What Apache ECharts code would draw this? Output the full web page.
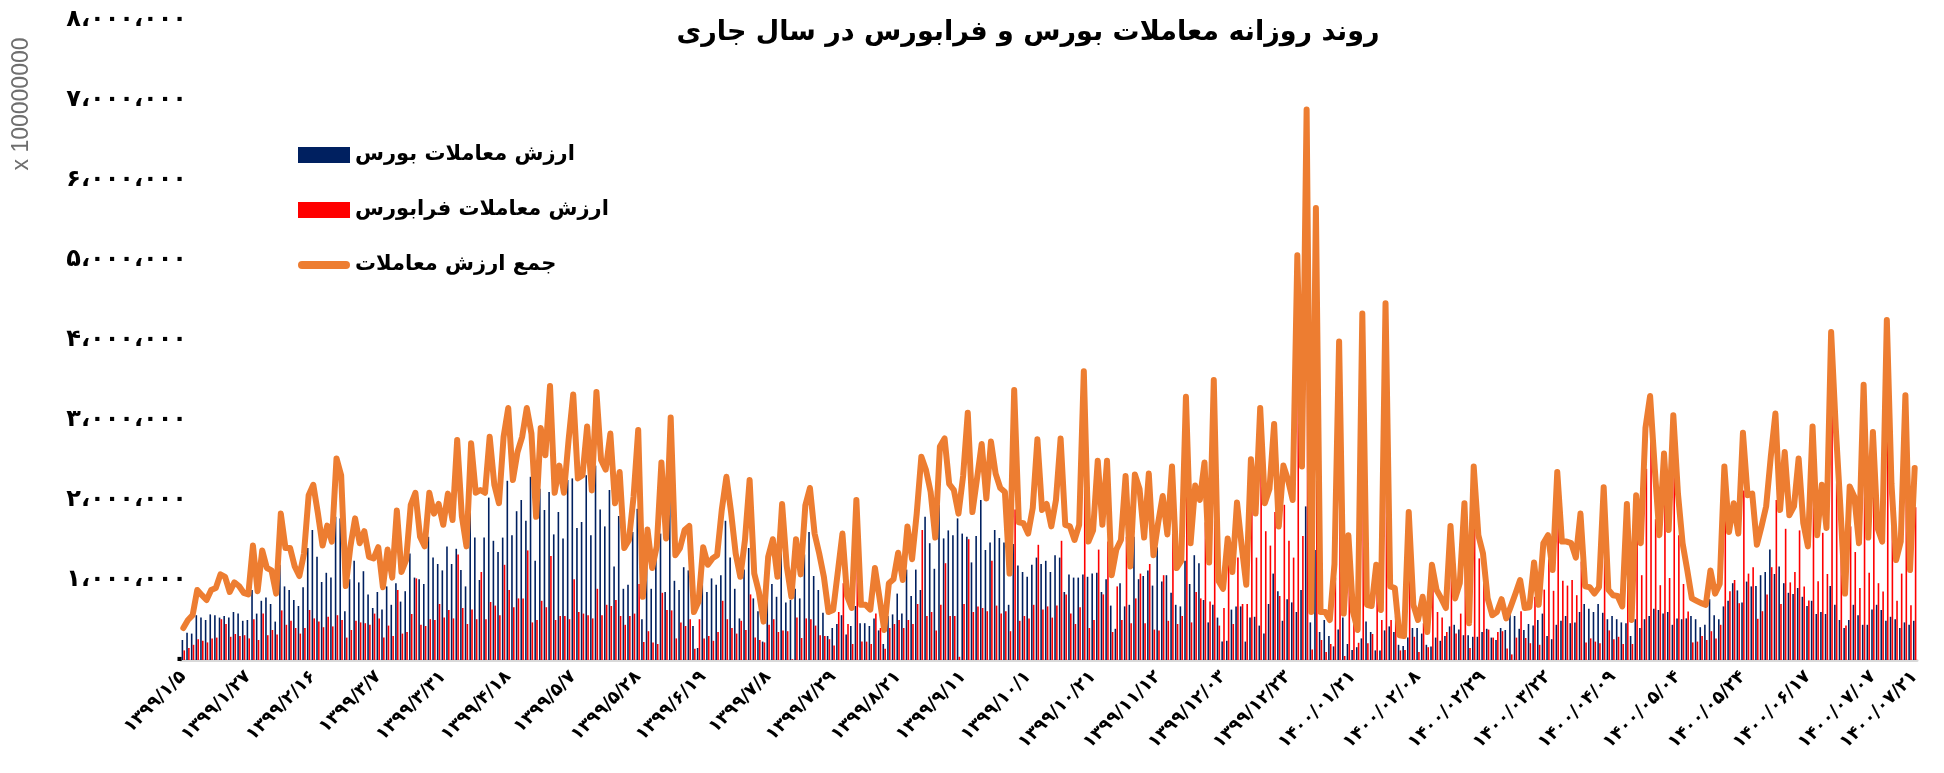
<!DOCTYPE html>
<html><head><meta charset="utf-8">
<script src="https://cdn.jsdelivr.net/npm/echarts@6/dist/echarts.min.js"></script>
<style>html,body{margin:0;padding:0;background:#fff}#c{width:1944px;height:773px}</style>
</head><body><div id="c"></div>
<script>
// tick labels shown every 14 trading days, plus the last day
const tickLabels = ['۱۳۹۹/۱/۵','۱۳۹۹/۱/۲۷','۱۳۹۹/۲/۱۶','۱۳۹۹/۳/۷','۱۳۹۹/۳/۳۱','۱۳۹۹/۴/۱۸','۱۳۹۹/۵/۷','۱۳۹۹/۵/۲۸','۱۳۹۹/۶/۱۹','۱۳۹۹/۷/۸','۱۳۹۹/۷/۲۹','۱۳۹۹/۸/۲۱','۱۳۹۹/۹/۱۱','۱۳۹۹/۱۰/۱','۱۳۹۹/۱۰/۲۱','۱۳۹۹/۱۱/۱۲','۱۳۹۹/۱۲/۰۳','۱۳۹۹/۱۲/۲۳','۱۴۰۰/۰۱/۲۱','۱۴۰۰/۰۲/۰۸','۱۴۰۰/۰۲/۲۹','۱۴۰۰/۰۳/۲۲','۱۴۰۰/۰۴/۰۹','۱۴۰۰/۰۵/۰۴','۱۴۰۰/۰۵/۲۴','۱۴۰۰/۰۶/۱۷','۱۴۰۰/۰۷/۰۷','۱۴۰۰/۰۷/۲۱'];
const tickStep = 14;

// values in millions of axis units (axis unit = x 100000000)
const bourse = [
0.25,0.34,0.33,0.56,0.53,0.50,0.57,0.56,0.53,0.55,0.53,0.60,0.58,0.49,0.50,0.875,0.58,0.74,0.78,0.70,0.48,1.19,0.92,0.875,0.75,0.675,0.91,1.40,1.625,1.29,0.975,1.09,1.03,1.79,1.77,0.61,1.01,1.24,0.97,1.11,0.82,0.65,0.85,0.63,0.92,0.69,0.96,
0.73,0.86,1.33,1.03,1.01,0.95,1.54,1.28,1.20,1.12,1.42,1.20,1.39,1.125,0.92,2.0,1.53,1.0,1.53,2.03,1.49,1.35,1.53,2.24,1.56,1.86,2.0,1.74,2.29,1.24,2.14,1.875,2.10,1.57,1.85,1.52,2.25,2.27,1.65,1.725,2.31,1.56,2.43,1.88,1.67,2.125,1.17,1.80,
0.89,0.94,1.6,1.89,0.51,1.25,0.89,1.26,1.58,0.85,2.35,0.99,0.875,1.16,1.12,0.425,0.15,1.1,0.85,1.02,0.94,1.06,1.74,1.28,0.89,0.52,1.13,1.40,0.77,0.61,0.23,0.94,0.95,0.79,1.55,0.72,0.75,0.89,0.77,1.32,1.60,1.05,0.875,0.59,0.30,0.40,0.45,
0.56,0.32,0.425,0.675,0.46,0.46,0.425,0.52,0.37,0.20,0.55,0.57,0.83,0.58,1.13,0.80,1.13,0.875,1.79,1.46,1.14,1.94,1.52,1.62,1.56,1.77,1.58,1.54,1.22,1.55,2.0,1.375,1.47,1.625,1.525,1.47,0.69,1.45,1.18,1.10,1.04,1.19,1.28,1.20,
1.24,1.10,1.31,1.28,0.85,1.07,1.03,1.03,1.07,1.04,1.08,1.09,0.85,1.01,0.68,0.39,0.96,0.67,0.69,1.54,1.01,1.05,1.12,0.93,1.41,0.98,1.06,0.84,0.69,0.67,1.24,0.95,1.31,1.21,0.75,0.47,0.69,0.53,0.23,0.24,0.63,0.67,0.67,0.23,0.53,0.54,0.43,0.33,0.70,1.08,0.86,
0.49,0.76,0.72,0.60,0.875,1.92,0.47,1.375,0.35,0.5,0.3,0.17,0.38,0.53,0.20,0.125,0.16,0.27,0.48,0.35,0.12,0.12,0.37,0.42,0.35,0.19,0.175,0.28,0.40,0.40,0.33,0.19,0.17,0.28,0.24,0.30,0.42,0.44,0.38,0.31,0.31,0.29,0.29,0.35,0.39,0.28,0.25,
0.40,0.375,0.60,0.55,0.39,0.375,0.45,0.43,0.5,0.58,0.30,0.26,0.44,0.49,0.55,0.46,0.47,0.60,0.70,0.64,0.60,0.70,0.59,0.51,0.55,0.51,0.47,0.46,0.30,0.51,0.40,0.51,0.55,0.64,0.625,0.58,0.60,0.44,0.52,0.51,0.52,0.55,0.51,0.41,0.44,0.76,0.56,0.51,
0.67,0.74,0.96,0.87,0.72,0.98,0.92,0.925,1.06,1.10,1.38,1.075,1.17,0.96,0.84,0.825,0.90,0.79,0.675,0.74,0.575,0.60,0.575,0.925,0.69,0.5,0.40,0.5,0.69,0.56,0.44,0.44,0.63,0.69,0.625,0.49,0.54,0.51,0.40,0.47,0.44,0.49];

const farabourse = [
0.12,0.15,0.19,0.26,0.24,0.22,0.27,0.28,0.51,0.45,0.29,0.325,0.30,0.31,0.27,0.51,0.25,0.58,0.31,0.375,0.32,0.62,0.44,0.49,0.40,0.33,0.40,0.625,0.52,0.48,0.41,0.54,0.42,0.56,0.50,0.28,0.375,0.49,0.47,0.46,0.44,0.58,0.52,0.28,0.43,0.30,0.875,
0.33,0.35,0.575,1.02,0.44,0.425,0.51,0.50,0.70,0.53,0.625,0.52,1.32,0.65,0.45,0.63,0.51,1.10,0.51,0.725,0.68,0.56,1.19,0.875,0.66,0.77,0.77,1.37,0.47,0.50,0.74,0.66,1.30,0.50,0.55,0.55,0.51,1.01,0.60,0.58,0.56,0.52,0.89,0.56,0.69,0.675,0.75,0.55,
0.44,0.55,0.58,0.95,0.225,0.36,0.22,0.20,0.84,0.625,0.62,0.27,0.47,0.425,0.51,0.14,0.51,0.27,0.30,0.24,0.35,0.74,0.51,0.40,0.33,0.49,0.375,0.82,0.28,0.25,0.22,0.44,0.51,0.35,0.37,0.36,0.01,0.53,0.275,0.52,0.51,0.43,0.31,0.30,0.26,0.18,0.6,
0.96,0.45,0.2,1.3,0.23,0.23,0.2,0.58,0.4,0.14,0.4,0.45,0.5,0.4,0.5,0.45,0.7,1.625,0.55,0.6,0.37,0.69,1.21,0.55,0.55,0.04,0.70,1.51,0.60,0.67,0.65,0.61,1.24,0.68,0.58,0.61,0.36,1.88,0.49,0.55,0.52,0.69,1.44,0.63,
0.67,0.53,0.68,1.49,0.82,0.58,0.45,0.66,2.54,0.40,0.50,1.38,0.82,1.48,0.35,0.92,0.50,1.54,0.46,0.77,1.08,0.46,1.20,0.38,0.37,1.06,0.49,1.58,0.45,0.55,2.05,0.47,0.85,0.77,1.72,0.73,2.81,0.43,0.65,1.20,0.45,1.28,0.7,0.70,1.9,1.28,2.7,1.61,1.43,1.85,0.8,
1.94,1.49,1.28,4.46,1.55,4.96,0.13,4.28,0.25,0.1,0.2,1.03,3.6,0.05,1.36,0.475,0.215,4.06,0.21,0.325,1.07,0.5,4.09,0.5,0.55,0.12,0.125,1.57,0.29,0.1,0.46,0.16,1.02,0.6,0.53,0.35,1.255,0.33,0.58,1.65,0.15,2.13,1.27,0.98,0.38,0.28,0.35,
0.36,0.145,0.07,0.28,0.61,0.275,0.21,0.79,0.19,0.88,1.26,0.865,1.91,0.99,0.93,1.0,0.81,1.23,0.22,0.27,0.23,0.21,1.57,0.37,0.26,0.29,0.2,1.49,0.2,1.55,1.06,2.39,2.75,1.76,0.935,2.0,1.025,2.62,1.56,0.95,0.605,0.22,0.23,0.3,0.25,0.36,0.27,0.44,
1.75,0.86,1.0,0.71,2.12,1.08,1.16,0.515,0.61,0.82,1.16,2.0,0.7,1.64,0.97,1.1,1.62,0.92,0.745,2.18,0.985,1.59,1.075,3.175,2.21,1.4,0.43,1.67,1.35,0.9,3.0,1.09,2.22,0.96,0.855,3.76,1.66,0.74,1.08,2.84,0.685,1.91];

const total = [
0.40,0.50,0.56,0.875,0.81,0.75,0.875,0.90,1.07,1.04,0.85,0.97,0.925,0.84,0.82,1.43,0.86,1.37,1.15,1.12,0.83,1.83,1.40,1.40,1.17,1.05,1.33,2.06,2.19,1.83,1.43,1.68,1.48,2.52,2.31,0.925,1.42,1.77,1.46,1.61,1.29,1.27,1.41,0.91,1.38,1.03,1.87,
1.10,1.25,1.94,2.09,1.54,1.42,2.09,1.83,1.95,1.69,2.08,1.75,2.75,1.8,1.42,2.71,2.09,2.125,2.09,2.79,2.19,1.96,2.79,3.15,2.25,2.60,2.79,3.15,2.83,1.79,2.90,2.56,3.425,2.09,2.43,2.09,2.75,3.32,2.27,2.31,2.92,2.12,3.35,2.50,2.38,2.83,1.96,2.35,
1.40,1.5,2.04,2.875,0.79,1.63,1.15,1.42,2.47,1.52,3.03,1.31,1.40,1.625,1.675,0.60,0.73,1.41,1.19,1.27,1.31,1.875,2.29,1.85,1.33,1.04,1.5,2.25,1.08,0.85,0.48,1.29,1.51,1.04,1.95,1.17,0.79,1.51,1.07,1.93,2.15,1.58,1.33,1.04,0.60,0.625,1.1,
1.58,0.8,0.65,2.0,0.69,0.69,0.63,1.15,0.77,0.375,0.96,1.01,1.34,1.0,1.67,1.26,1.83,2.54,2.375,2.10,1.53,2.67,2.77,2.2,2.125,1.83,2.3,3.09,1.85,2.27,2.7,2.02,2.73,2.33,2.15,2.10,1.08,3.375,1.72,1.71,1.58,1.90,2.76,1.875,
1.95,1.67,2.0,2.77,1.69,1.67,1.50,1.69,3.61,1.48,1.62,2.49,1.69,2.49,1.06,1.38,1.50,2.30,1.17,2.32,2.14,1.53,2.33,1.31,1.71,2.05,1.57,2.42,1.15,1.24,3.29,1.46,2.18,2.0,2.47,1.22,3.50,0.99,0.89,1.52,1.10,1.97,1.43,0.94,2.51,1.83,3.15,1.96,2.14,2.95,1.67,
2.43,2.25,2.0,5.06,2.42,6.88,0.60,5.65,0.6,0.6,0.50,1.2,3.98,0.58,1.56,0.60,0.375,4.33,0.69,0.675,1.19,0.625,4.46,0.92,0.90,0.31,0.30,1.85,0.69,0.5,0.79,0.35,1.19,0.875,0.77,0.65,1.675,0.77,0.96,1.96,0.46,2.42,1.56,1.33,0.77,0.56,0.60,
0.76,0.52,0.67,0.83,1.0,0.65,0.66,1.22,0.69,1.46,1.56,1.125,2.35,1.48,1.48,1.46,1.28,1.83,0.92,0.91,0.83,0.91,2.16,0.88,0.81,0.80,0.67,1.95,0.50,2.06,1.46,2.90,3.30,2.4,1.56,2.58,1.625,3.06,2.08,1.46,1.125,0.77,0.74,0.71,0.69,1.12,0.83,0.95,
2.42,1.60,1.96,1.58,2.84,2.06,2.08,1.44,1.67,1.92,2.54,3.08,1.875,2.60,1.81,1.92,2.52,1.71,1.42,2.92,1.56,2.19,1.65,4.10,2.9,1.9,0.83,2.17,2.04,1.46,3.44,1.53,2.85,1.65,1.48,4.25,2.2,1.25,1.48,3.31,1.125,2.40];

const seriesNames = ['ارزش معاملات بورس','ارزش معاملات فرابورس','جمع ارزش معاملات'];
const titleText = 'روند روزانه معاملات بورس و فرابورس در سال جاری';
const unitText = 'x 100000000';

const N = total.length;
const categories = [];
for (let i = 0; i < N; i++) {
  if (i === N - 1) categories.push(tickLabels[tickLabels.length - 1]);
  else if (i % tickStep === 0) categories.push(tickLabels[i / tickStep]);
  else categories.push('');
}
const faDigits = '۰۱۲۳۴۵۶۷۸۹';
function toFa(s){ return String(s).replace(/\d/g, d => faDigits[+d]); }
function fmtVal(v){
  const n = Math.round(v * 1000000);
  const s = String(n).replace(/\B(?=(\d{3})+(?!\d))/g, '،');
  return toFa(s);
}

const chart = echarts.init(document.getElementById('c'), null, {renderer: 'canvas'});
const font = '"DejaVu Sans", "Noto Sans", sans-serif';
chart.setOption({
  animation: false,
  backgroundColor: '#ffffff',
  title: {
    text: titleText, left: 1023, top: 14, textAlign: 'center',
    textStyle: {fontFamily: font, fontWeight: 'bold', fontSize: 27, color: '#000'}
  },
  legend: {
    orient: 'vertical', left: 293, top: 135, itemWidth: 52, itemHeight: 16, itemGap: 25,
    symbolKeepAspect: true,
    data: [
      {name: seriesNames[0], icon: 'rect'},
      {name: seriesNames[1], icon: 'rect'},
      {name: seriesNames[2], icon: 'path://M4,0 L48,0 A4,4 0 0 1 48,8 L4,8 A4,4 0 0 1 4,0 Z', itemStyle: {color: '#ed7d31'}}
    ],
    textStyle: {fontFamily: font, fontWeight: 'bold', fontSize: 21, color: '#000', lineHeight: 30}
  },
  graphic: [{
    type: 'text', x: 22, y: 104, rotation: Math.PI / 2,
    style: {text: unitText, fill: '#6e6e6e', fontSize: 23, fontFamily: '"Liberation Sans", Arial, sans-serif', textAlign: 'center', textVerticalAlign: 'middle'}
  }],
  grid: {left: 181, right: 27, top: 20, bottom: 113, containLabel: false},
  xAxis: {
    type: 'category', data: categories, boundaryGap: true,
    axisLine: {show: true, lineStyle: {color: '#d9d9d9', width: 3}},
    axisTick: {show: false},
    axisLabel: {
      interval: (i) => i % tickStep === 0 || i === N - 1,
      rotate: 45, margin: 14, fontFamily: font, fontWeight: 'bold', fontSize: 18, color: '#000'
    },
    splitLine: {show: false}
  },
  yAxis: {
    type: 'value', min: 0, max: 8, interval: 1,
    axisLine: {show: false}, axisTick: {show: false}, splitLine: {show: false},
    axisLabel: {formatter: fmtVal, margin: -6, fontFamily: font, fontWeight: 'bold', fontSize: 24, color: '#000'}
  },
  series: [
    {name: seriesNames[0], type: 'bar', data: bourse, barWidth: 1.6, barGap: '15%', itemStyle: {color: '#002060'}},
    {name: seriesNames[1], type: 'bar', data: farabourse, barWidth: 1.6, barGap: '15%', itemStyle: {color: '#ff0000'}},
    {name: seriesNames[2], type: 'line', data: total, symbol: 'none', showSymbol: false, z: 5,
     lineStyle: {color: '#ed7d31', width: 6, cap: 'round', join: 'round'}, itemStyle: {color: '#ed7d31'}}
  ]
});
</script>
</body></html>
